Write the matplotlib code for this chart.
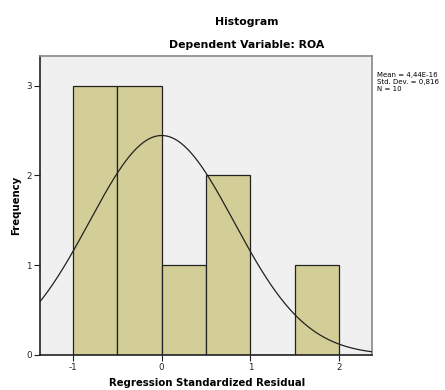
import numpy as np
import matplotlib.pyplot as plt

# === DATA ===
bin_edges = [-1.0, -0.5, 0.0, 0.5, 1.0, 1.5, 2.0]
counts = [3, 3, 1, 2, 0, 1]
mean = 4.44e-16
std = 0.816
n = 10
x_ticks = [-1, 0, 1, 2]
y_ticks = [0, 1, 2, 3]

# === PLOT ===
fig = plt.figure(figsize=(4.45, 3.9), dpi=100)
ax = fig.add_axes([40 / 445, 1 - 355 / 390, 332 / 445, 299 / 390])
ax.set_facecolor("#F0F0F0")

widths = np.diff(bin_edges)
ax.bar(bin_edges[:-1], counts, width=widths, align="edge",
       color="#D3CE97", edgecolor="#222222", linewidth=0.9, zorder=2)

# normal curve scaled to the histogram
xs = np.linspace(-1.372, 2.372, 300)
bw = widths[0]
ys = n * bw / (std * np.sqrt(2 * np.pi)) * np.exp(-0.5 * ((xs - mean) / std) ** 2)
ax.plot(xs, ys, color="#222222", linewidth=0.9, zorder=3)

ax.set_xlim(-1.372, 2.372)
ax.set_ylim(0, 3.33)
ax.set_xticks(x_ticks)
ax.set_xticklabels([str(t) for t in x_ticks])
ax.set_yticks(y_ticks)
ax.tick_params(labelsize=6.3, length=4, width=0.8, colors="#222222", pad=2)
for s in ax.spines.values():
    s.set_color("#888888")
    s.set_linewidth(1.2)
ax.spines["left"].set_color("#222222")
ax.spines["bottom"].set_color("#222222")

fig.text(207 / 445, 1 - 383 / 390, "Regression Standardized Residual", ha="center", va="center",
         fontsize=7.3, fontweight="bold")
fig.text(16 / 445, 1 - 205 / 390, "Frequency", ha="center", va="center", rotation=90,
         fontsize=7.3, fontweight="bold")

fig.text(247 / 445, 1 - 22 / 390, "Histogram", ha="center", va="center",
         fontsize=7.8, fontweight="bold")
fig.text(247 / 445, 1 - 45 / 390, "Dependent Variable: ROA", ha="center", va="center",
         fontsize=7.8, fontweight="bold")
fig.text(377 / 445, 1 - 72 / 390,
         "Mean = 4,44E-16\nStd. Dev. = 0,816\nN = 10",
         ha="left", va="top", fontsize=5.0, linespacing=1.2)

fig.savefig("out.png", dpi=100)
